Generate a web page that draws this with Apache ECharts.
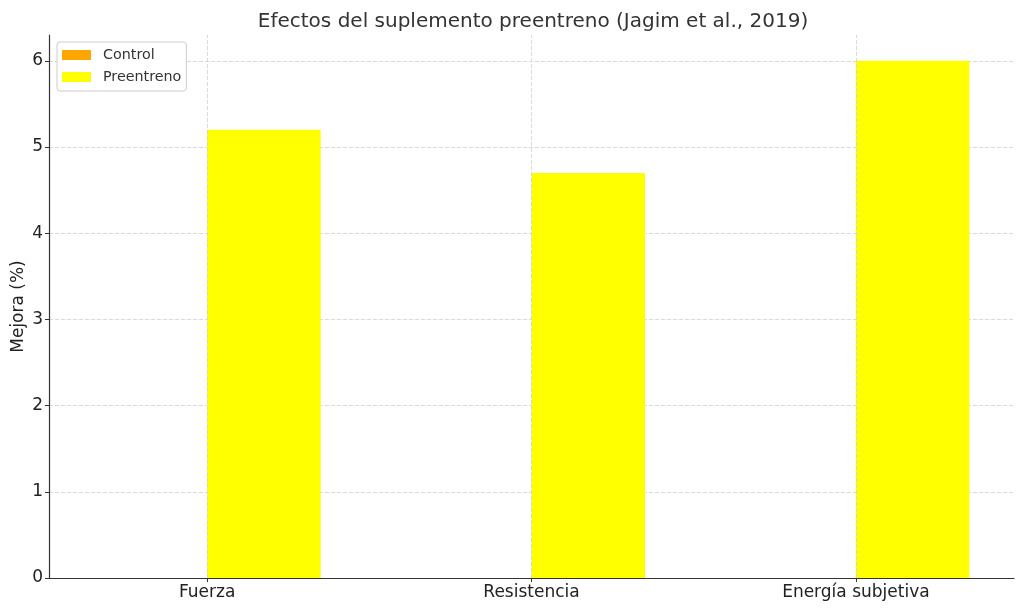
<!DOCTYPE html>
<html><head><meta charset="utf-8">
<script src="https://cdn.jsdelivr.net/npm/echarts@6/dist/echarts.min.js"></script>
<style>html,body{margin:0;padding:0;background:#fff}#c{width:1024px;height:611px}</style>
</head><body><div id="c"></div>
<script>
const categories = ['Fuerza', 'Resistencia', 'Energía subjetiva'];
const controlValues = [0, 0, 0];
const preentrenoValues = [5.2, 4.7, 6.0];
const yTicks = [0, 1, 2, 3, 4, 5, 6];
const barW = 0.35;

const chart = echarts.init(document.getElementById('c'));
function mkSeries(name, vals, offset, color) {
  return {
    name: name, type: 'custom',
    itemStyle: { color: color },
    data: vals.map((v, i) => [i, v]),
    renderItem: function (params, api) {
      const x = api.value(0) + offset;
      const p0 = api.coord([x, api.value(1)]);
      const p1 = api.coord([x + barW, 0]);
      return { type: 'rect', shape: { x: p0[0], y: p0[1], width: p1[0] - p0[0], height: p1[1] - p0[1] }, style: { fill: color } };
    },
    z: 1
  };
}
const font = 'DejaVu Sans';
chart.setOption({
  animation: false,
  textStyle: { fontFamily: font },
  title: { text: 'Efectos del suplemento preentreno (Jagim et al., 2019)', left: 528, top: 7, textAlign: 'center',
    textStyle: { fontFamily: font, fontSize: 20, fontWeight: 'normal', color: '#333' } },
  legend: {
    orient: 'vertical', left: 57, top: 42, padding: [6, 5, 7, 5], itemGap: 8,
    itemWidth: 29, itemHeight: 10, borderColor: '#ccc', borderWidth: 1, borderRadius: 3,
    backgroundColor: '#fff',
    textStyle: { fontFamily: font, fontSize: 14.3, color: '#333', padding: [0, 0, 0, 7] },
    data: [{ name: 'Control', icon: 'rect' }, { name: 'Preentreno', icon: 'rect' }]
  },
  grid: { left: 49, right: 10, top: 35, bottom: 33, outerBoundsMode: 'none', containLabel: false },
  xAxis: {
    type: 'value', min: -0.4875, max: 2.4875,
    axisLine: { onZero: false, lineStyle: { color: '#333', width: 1.2 } },
    axisTick: { show: true, length: 4, customValues: [0, 1, 2], lineStyle: { color: '#333' } },
    axisLabel: { customValues: [0, 1, 2], formatter: v => categories[Math.round(v)], fontSize: 17, color: '#222', margin: 6, fontFamily: font },
    splitLine: { show: false }
  },
  yAxis: {
    type: 'value', min: 0, max: 6.3, interval: 1,
    name: 'Mejora (%)', nameLocation: 'middle', nameGap: 22, nameRotate: 90, nameMoveOverlap: false,
    nameTextStyle: { fontSize: 17, color: '#222', fontFamily: font },
    axisLine: { show: true, onZero: false, lineStyle: { color: '#333', width: 1.2 } },
    axisTick: { show: true, length: 4, lineStyle: { color: '#333' } },
    axisLabel: { fontSize: 17, color: '#222', margin: 6, showMaxLabel: false, fontFamily: font, formatter: v => (yTicks.includes(v) ? String(v) : '') },
    splitLine: { show: true, showMaxLine: false, lineStyle: { color: '#d0d0d0', type: [4, 2], width: 0.8 } }
  },
  series: [
    mkSeries('Control', controlValues, -barW, '#FFA500'),
    mkSeries('Preentreno', preentrenoValues, 0, '#FFFF00'),
    { type: 'line', data: [], silent: true, z: 3,
      markLine: { silent: true, symbol: 'none', label: { show: false },
        lineStyle: { color: '#d0d0d0', type: [4, 2], width: 0.8 },
        data: [0, 1, 2].map(v => ({ xAxis: v })) } }
  ]
});
</script></body></html>
